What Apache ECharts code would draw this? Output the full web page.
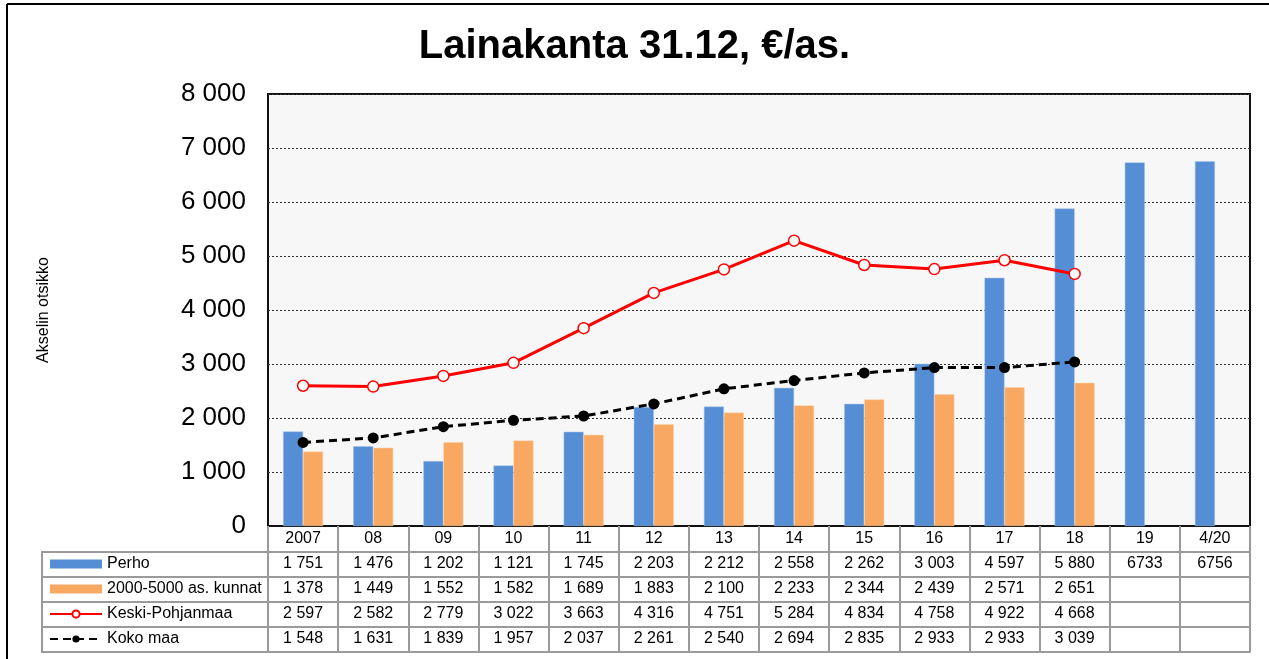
<!DOCTYPE html>
<html>
<head>
<meta charset="utf-8">
<title>Lainakanta</title>
<script src="https://cdn.jsdelivr.net/npm/echarts@6/dist/echarts.min.js"></script>
<style>
  html, body { margin: 0; padding: 0; background: #fff; }
  #chart { width: 1269px; height: 659px; }
</style>
</head>
<body>
<div id="chart"></div>
<script>
// data
var years = ['2007', '08', '09', '10', '11', '12', '13', '14', '15', '16', '17', '18', '19', '4/20'];
var perho = [1751, 1476, 1202, 1121, 1745, 2203, 2212, 2558, 2262, 3003, 4597, 5880, 6733, 6756];
var kunnat = [1378, 1449, 1552, 1582, 1689, 1883, 2100, 2233, 2344, 2439, 2571, 2651, null, null];
var keskiPohjanmaa = [2597, 2582, 2779, 3022, 3663, 4316, 4751, 5284, 4834, 4758, 4922, 4668, null, null];
var kokoMaa = [1548, 1631, 1839, 1957, 2037, 2261, 2540, 2694, 2835, 2933, 2933, 3039, null, null];
var yTicks = [0, 1000, 2000, 3000, 4000, 5000, 6000, 7000, 8000];

var seriesNames = ['Perho', '2000-5000 as. kunnat', 'Keski-Pohjanmaa', 'Koko maa'];

function fmt(v) {
	if (v == null) return '';
	return String(v).replace(/\B(?=(\d{3})+(?!\d))/g, ' ');
}
// the last two Perho cells are written without a space in the source table
var perhoText = perho.map(function (v, i) { return i >= 12 ? String(v) : fmt(v); });

var font = 'Liberation Sans, Arial, sans-serif';
var tableLine = { color: '#9a9a9a', width: 2 };

function rowAxis(offset, texts) {
	return {
		type: 'category',
		gridIndex: 0,
		position: 'bottom',
		offset: offset,
		data: years,
		axisLine: { show: true, lineStyle: tableLine },
		axisTick: { show: false },
		splitLine: { show: false },
		axisLabel: {
			show: !!texts,
			inside: true,
			interval: 0,
			margin: 5,
			fontFamily: font,
			fontSize: 16,
			color: '#000',
			formatter: function (v, i) { return texts ? texts[i] : ''; }
		}
	};
}

var myChart = echarts.init(document.getElementById('chart'));
var option = {
	animation: false,
	backgroundColor: '#fff',
	title: {
		text: 'Lainakanta 31.12, €/as.',
		left: 'center',
		top: 22,
		textStyle: {
			fontFamily: font,
			fontWeight: 'bold',
			fontSize: 40,
			color: '#000'
		}
	},
	legend: {
		orient: 'vertical',
		left: 49,
		top: 556,
		padding: 0,
		itemWidth: 52,
		itemHeight: 9,
		itemGap: 9,
		data: [
			{ name: seriesNames[0], icon: 'rect', itemStyle: { borderWidth: 0 } },
			{ name: seriesNames[1], icon: 'rect', itemStyle: { borderWidth: 0 } },
			seriesNames[2],
			seriesNames[3]
		],
		textStyle: { fontFamily: font, fontSize: 16, color: '#000' }
	},
	grid: {
		left: 268,
		right: 19,
		top: 94,
		bottom: 133,
		show: true,
		backgroundColor: '#f7f7f7',
		borderColor: '#111',
		borderWidth: 2
	},
	xAxis: [
		{
			type: 'category',
			position: 'bottom',
			data: years,
			axisLine: { show: true, lineStyle: { color: '#111', width: 2 } },
			axisTick: { show: true, interval: 0, length: 126, lineStyle: tableLine },
			splitLine: { show: false },
			axisLabel: {
				interval: 0,
				margin: 5,
				fontFamily: font,
				fontSize: 16,
				color: '#000'
			}
		},
		rowAxis(26, null),
		rowAxis(51, perhoText),
		rowAxis(76, kunnat.map(fmt)),
		rowAxis(101, keskiPohjanmaa.map(fmt)),
		rowAxis(126, kokoMaa.map(fmt))
	],
	yAxis: {
		type: 'value',
		min: yTicks[0],
		max: yTicks[yTicks.length - 1],
		interval: 1000,
		name: 'Akselin otsikko',
		nameLocation: 'middle',
		nameGap: 216,
		nameRotate: 90,
		nameTextStyle: { fontFamily: font, fontSize: 16, color: '#000' },
		axisLine: { show: false },
		axisTick: { show: false },
		splitLine: { show: true, lineStyle: { color: '#333', width: 1, type: [2, 2] } },
		axisLabel: {
			margin: 22,
			fontFamily: font,
			fontSize: 26,
			color: '#000',
			formatter: function (v) { return fmt(v); }
		}
	},
	series: [
		{
			name: seriesNames[0],
			type: 'bar',
			barWidth: 20,
			barGap: '0%',
			itemStyle: { color: '#558ed5', borderColor: '#a9c4ea', borderWidth: 0.5 },
			data: perho
		},
		{
			name: seriesNames[1],
			type: 'bar',
			barWidth: 20,
			barGap: '0%',
			itemStyle: { color: '#f9a862', borderColor: '#fcd3ad', borderWidth: 0.5 },
			data: kunnat
		},
		{
			name: seriesNames[2],
			type: 'line',
			z: 5,
			symbol: 'circle',
			symbolSize: 11,
			lineStyle: { color: '#ff0000', width: 3 },
			itemStyle: { color: '#ffffff', borderColor: '#ff0000', borderWidth: 1.5 },
			data: keskiPohjanmaa
		},
		{
			name: seriesNames[3],
			type: 'line',
			z: 5,
			symbol: 'circle',
			symbolSize: 11,
			lineStyle: { color: '#000', width: 3, type: [8, 5] },
			itemStyle: { color: '#000', borderColor: '#000', borderWidth: 0 },
			data: kokoMaa
		}
	],
	graphic: [
		// outer frame (left and top edges)
		{ type: 'line', shape: { x1: 7, y1: 4, x2: 1269, y2: 4 }, style: { stroke: '#000', lineWidth: 2 } },
		{ type: 'line', shape: { x1: 7, y1: 4, x2: 7, y2: 659 }, style: { stroke: '#000', lineWidth: 2 } },
		// label column of the data table
		{ type: 'rect', shape: { x: 42, y: 552, width: 226, height: 100 }, style: { fill: 'none', stroke: '#9a9a9a', lineWidth: 2 }, z: -1 },
		{ type: 'line', shape: { x1: 42, y1: 577, x2: 268, y2: 577 }, style: { stroke: '#9a9a9a', lineWidth: 2 }, z: -1 },
		{ type: 'line', shape: { x1: 42, y1: 602, x2: 268, y2: 602 }, style: { stroke: '#9a9a9a', lineWidth: 2 }, z: -1 },
		{ type: 'line', shape: { x1: 42, y1: 627, x2: 268, y2: 627 }, style: { stroke: '#9a9a9a', lineWidth: 2 }, z: -1 }
	]
};
myChart.setOption(option);
</script>
</body>
</html>
